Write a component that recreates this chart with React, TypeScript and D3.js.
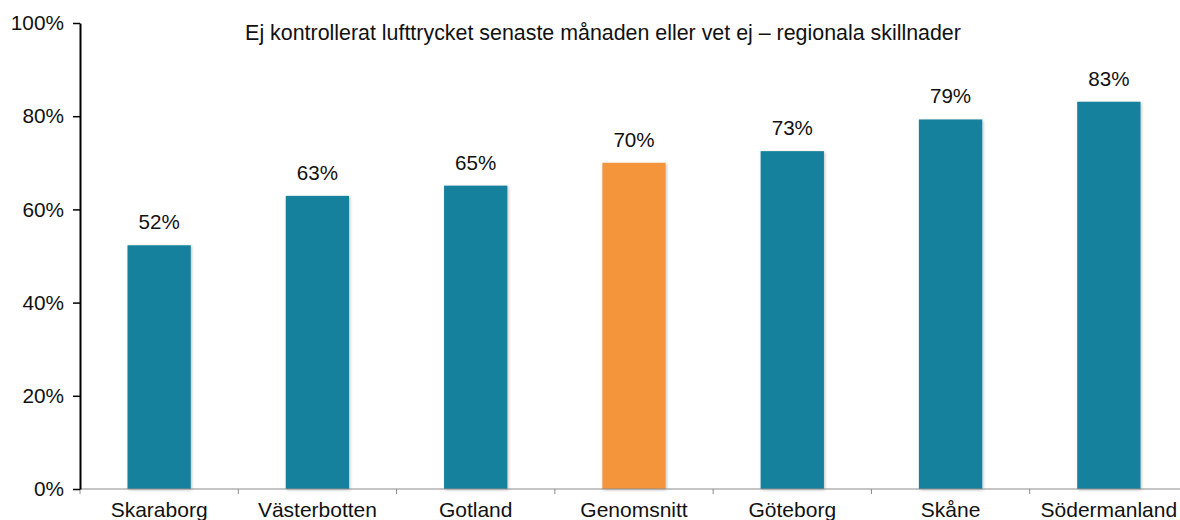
import React, { useEffect, useRef } from "react";
import * as d3 from "d3";

const regions = ["Skaraborg", "Västerbotten", "Gotland", "Genomsnitt", "Göteborg", "Skåne", "Södermanland"];
const shares = [0.523, 0.629, 0.651, 0.7, 0.725, 0.793, 0.831];
const shareLabels = ["52%", "63%", "65%", "70%", "73%", "79%", "83%"];
const yTicks = [0, 0.2, 0.4, 0.6, 0.8, 1];
const title = "Ej kontrollerat lufttrycket senaste månaden eller vet ej – regionala skillnader";

const W = 1180;
const H = 520;
const font = "'Liberation Sans', Arial, Helvetica, sans-serif";

const App = () => {
    const svgRef = useRef(null);

    useEffect(() => {
        const svg = d3.select(svgRef.current);
        svg.selectAll("*").remove();

        // scales
        const x = d3.scaleBand().domain(regions).range([80, 1188]).paddingInner(0).paddingOuter(0);
        const y = d3.scaleLinear().domain([0, 1]).range([489, 23]);
        const barW = x.bandwidth() * 0.4;

        // soft shadow like the original
        const defs = svg.append("defs");
        const f = defs.append("filter").attr("id", "shadow").attr("x", "-20%").attr("y", "-20%").attr("width", "140%").attr("height", "140%");
        f.append("feDropShadow").attr("dx", 1).attr("dy", 1).attr("stdDeviation", 1.5).attr("flood-color", "#000").attr("flood-opacity", 0.25);

        // title
        svg.append("text")
            .attr("x", 603)
            .attr("y", 40)
            .attr("text-anchor", "middle")
            .style("font-family", font)
            .style("font-size", "21.4px")
            .attr("fill", "#111")
            .text(title);

        // bars
        svg.selectAll("rect.bar")
            .data(regions)
            .enter()
            .append("rect")
            .attr("class", "bar")
            .attr("x", (d) => x(d) + (x.bandwidth() - barW) / 2)
            .attr("y", (d, i) => y(shares[i]))
            .attr("width", barW)
            .attr("height", (d, i) => y(0) - y(shares[i]))
            .attr("fill", (d) => (d === "Genomsnitt" ? "#F5953A" : "#17819C"))
            .attr("filter", "url(#shadow)");

        // value labels
        svg.selectAll("text.val")
            .data(regions)
            .enter()
            .append("text")
            .attr("class", "val")
            .attr("x", (d) => x(d) + x.bandwidth() / 2)
            .attr("y", (d, i) => y(shares[i]) - 16)
            .attr("text-anchor", "middle")
            .style("font-family", font)
            .style("font-size", "20.6px")
            .attr("fill", "#111")
            .text((d, i) => shareLabels[i]);

        // x axis
        const xg = svg.append("g");
        xg.append("line")
            .attr("x1", 80).attr("x2", W)
            .attr("y1", 489).attr("y2", 489)
            .attr("stroke", "#8a8a8a").attr("stroke-width", 1);
        xg.selectAll("line.tick")
            .data(regions)
            .enter()
            .append("line")
            .attr("class", "tick")
            .attr("x1", (d) => x(d)).attr("x2", (d) => x(d))
            .attr("y1", 489).attr("y2", 494)
            .attr("stroke", "#8a8a8a");
        xg.selectAll("text")
            .data(regions)
            .enter()
            .append("text")
            .attr("x", (d) => x(d) + x.bandwidth() / 2)
            .attr("y", 517)
            .attr("text-anchor", "middle")
            .style("font-family", font)
            .style("font-size", "21px")
            .attr("fill", "#111")
            .text((d) => d);

        // y axis
        const yg = svg.append("g").attr("transform", "translate(80,0)");
        yg.call(
            d3.axisLeft(y)
                .tickValues(yTicks)
                .tickFormat(d3.format(".0%"))
                .tickSize(7)
                .tickSizeOuter(0)
        );
        yg.select(".domain").attr("stroke", "#000").attr("stroke-width", 2);
        yg.selectAll(".tick line").attr("stroke", "#000").attr("stroke-width", 1.5);
        yg.selectAll(".tick text")
            .attr("x", -16)
            .style("font-family", font)
            .style("font-size", "20.8px")
            .attr("fill", "#111");
    }, []);

    return <svg ref={svgRef} width={W} height={H} style={{ position: "absolute", left: 0, top: 0 }} />;
};

export default App;
